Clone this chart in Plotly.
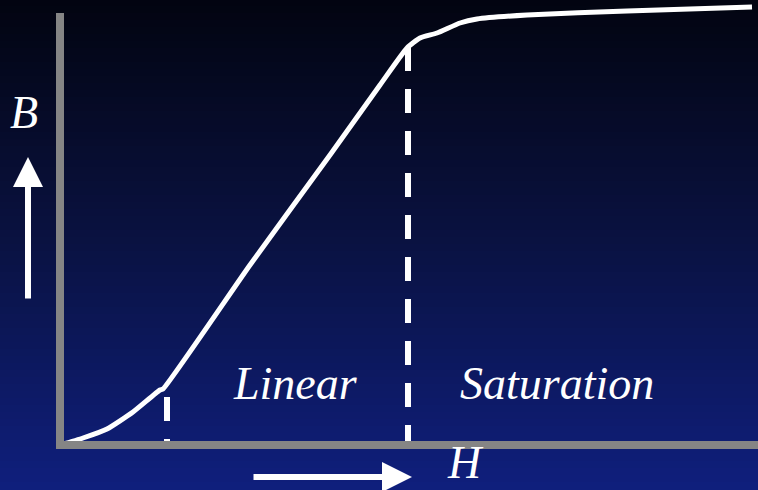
import plotly.graph_objects as go
import numpy as np

# B-H magnetisation curve (arbitrary units, origin at the axes corner)
H = [0, 23, 47, 73, 100, 103, 190, 270, 320, 347, 360, 377, 400, 417, 467, 567, 692]
B = [0, 7, 16, 33, 55, 56, 180, 290, 360, 397, 407, 412, 422, 426, 430, 434, 438]

# region borders (knee points) and labels
knee_H = [107, 348]
knee_B = [48, 398]
regions = ["Linear", "Saturation"]
region_H = [235, 497]

H_max = 698
B_max = 432

fig = go.Figure()

# background gradient, black at top to navy at bottom
top = np.array([2, 4, 16])
mid = np.array([10, 18, 66])
bot = np.array([15, 31, 125])
n = 70
for i in range(n):
    t = (i + 0.5) / n
    if t < 0.5:
        c = top + (mid - top) * t * 2
    else:
        c = mid + (bot - mid) * (t - 0.5) * 2
    fig.add_shape(type="rect", xref="paper", yref="paper",
                  x0=0, x1=1, y0=1 - (i + 1) / n, y1=1 - i / n + 0.002,
                  fillcolor="rgb(%d,%d,%d)" % tuple(c.round()), line_width=0, layer="below")

# gray axes
fig.add_shape(type="line", x0=0, x1=0, y0=0, y1=B_max, line=dict(color="#858585", width=8))
fig.add_shape(type="line", x0=-4, x1=H_max + 10, y0=0, y1=0, line=dict(color="#858585", width=8))

# dashed region borders
for h, b in zip(knee_H, knee_B):
    fig.add_trace(go.Scatter(x=[h, h], y=[b, -4], mode="lines",
                             line=dict(color="white", width=6, dash="24px,18px"),
                             showlegend=False, hoverinfo="skip"))

fig.add_trace(go.Scatter(x=H, y=B, mode="lines",
                         line=dict(color="white", width=5, shape="spline", smoothing=0.5),
                         showlegend=False, hoverinfo="skip"))

font = dict(family="Liberation Serif, Times New Roman, serif", size=46, color="white")

for name, h in zip(regions, region_H):
    fig.add_annotation(x=h, y=62, text="<i>%s</i>" % name, showarrow=False,
                       font=font, xanchor="center", yanchor="middle")

fig.add_annotation(x=-36, y=333, text="<i>B</i>", showarrow=False, font=font,
                   xanchor="center", yanchor="middle")
fig.add_annotation(x=405, y=-45, text="<i>H</i>", showarrow=False, font=font,
                   xanchor="center", yanchor="bottom")

# direction arrows
fig.add_annotation(x=-32, y=288, ax=-32, ay=145, axref="x", ayref="y", text="",
                   showarrow=True, arrowhead=2, arrowsize=1, arrowwidth=6, arrowcolor="white")
fig.add_annotation(x=352, y=-32, ax=192, ay=-32, axref="x", ayref="y", text="",
                   showarrow=True, arrowhead=2, arrowsize=1, arrowwidth=6, arrowcolor="white")

fig.update_layout(width=758, height=490, margin=dict(l=0, r=0, t=0, b=0),
                  paper_bgcolor="#0a1040", plot_bgcolor="rgba(0,0,0,0)",
                  showlegend=False)
fig.update_xaxes(range=[-60, 698], visible=False, fixedrange=True)
fig.update_yaxes(range=[-45, 445], visible=False, fixedrange=True)

fig.write_html("out.html", config={"displayModeBar": False},
               post_script="document.body.style.margin='0';")
